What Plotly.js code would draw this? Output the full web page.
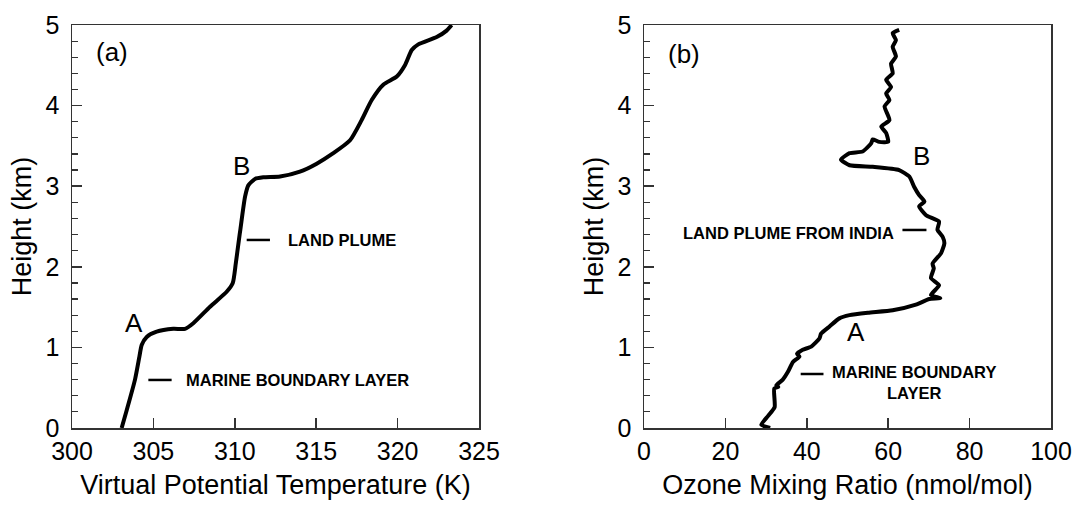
<!DOCTYPE html>
<html>
<head>
<meta charset="utf-8">
<script src="https://cdn.plot.ly/plotly-3.0.1.min.js"></script>
<style>html,body{margin:0;padding:0;background:#fff;}#chart{width:1072px;height:506px;}</style>
</head>
<body>
<div id="chart"></div>
<script>
// Panel (a): virtual potential temperature profile
const vptTemp = [303.05, 303.36, 303.87, 304.14, 304.28, 304.59, 305.2, 306.22, 306.94, 307.45, 308.48, 309.5, 309.87, 310.06, 310.25, 310.34, 310.63, 310.83, 311.24, 311.75, 312.78, 314.0, 315.03, 316.05, 317.08, 317.79, 318.41, 319.12, 319.95, 320.45, 320.87, 321.27, 322.4, 323.01, 323.32];
const vptHeight = [0, 0.22, 0.6, 0.885, 1.03, 1.13, 1.195, 1.23, 1.23, 1.30, 1.505, 1.69, 1.795, 2.04, 2.33, 2.46, 2.87, 3.01, 3.09, 3.11, 3.12, 3.18, 3.28, 3.41, 3.57, 3.82, 4.07, 4.26, 4.36, 4.5, 4.69, 4.76, 4.85, 4.93, 5.0];

// Panel (b): ozone mixing ratio profile
const ozone = [31.0, 28.8, 30.5, 32.1, 32.0, 33.0, 32.5, 34.1, 35.4, 36.6, 38.2, 37.6, 39.0, 41.1, 43.1, 43.5, 45.6, 48.0, 50.5, 55.0, 61.1, 66.8, 70.1, 72.8, 70.5, 72.5, 70.5, 71.2, 70.9, 73.0, 73.8, 73.4, 72.1, 72.5, 69.3, 67.6, 68.9, 67.6, 66.4, 65.2, 62.7, 56.2, 50.5, 48.4, 50.5, 53.7, 55.8, 56.2, 57.8, 60.0, 59.5, 58.3, 60.3, 59.1, 60.3, 59.5, 60.7, 59.5, 61.1, 60.7, 61.9, 61.1, 61.9, 61.1, 62.7];
const ozoneHeight = [0.0, 0.04, 0.15, 0.26, 0.49, 0.51, 0.53, 0.60, 0.70, 0.82, 0.885, 0.92, 0.97, 1.01, 1.11, 1.17, 1.26, 1.36, 1.40, 1.43, 1.46, 1.53, 1.60, 1.61, 1.65, 1.77, 1.86, 1.98, 2.04, 2.17, 2.29, 2.37, 2.46, 2.56, 2.64, 2.75, 2.81, 2.89, 2.99, 3.12, 3.20, 3.24, 3.26, 3.33, 3.41, 3.43, 3.53, 3.58, 3.55, 3.55, 3.66, 3.74, 3.82, 3.99, 4.07, 4.15, 4.23, 4.32, 4.40, 4.52, 4.61, 4.73, 4.81, 4.90, 4.94];

const tempTicks = [300, 305, 310, 315, 320, 325];
const ozoneTicks = [0, 20, 40, 60, 80, 100];
const heightTicks = [0, 1, 2, 3, 4, 5];

const FONT = 'Liberation Sans, Arial, Helvetica, sans-serif';
const AX = '#333';

const traces = [
  {x: vptTemp, y: vptHeight, xaxis: 'x', yaxis: 'y', mode: 'lines',
   line: {color: '#000', width: 4, shape: 'spline', smoothing: 0.6}, hoverinfo: 'skip'},
  {x: ozone, y: ozoneHeight, xaxis: 'x2', yaxis: 'y2', mode: 'lines',
   line: {color: '#000', width: 4, shape: 'spline', smoothing: 0.5}, hoverinfo: 'skip'}
];

function xAxis(dom, range, ticks, title) {
  return {domain: dom, range: range, tickvals: ticks, ticks: 'inside', ticklen: 10, tickwidth: 1.5,
    tickcolor: AX, showline: true, mirror: true, linecolor: AX, linewidth: 1.5, showgrid: false,
    zeroline: false, ticklabelstandoff: 0, ticklabeloverflow: 'allow', tickfont: {size: 25, color: '#000'},
    title: {text: title, font: {size: 27, color: '#000'}, standoff: 11}, automargin: false, fixedrange: true};
}
function yAxis(anchor) {
  return {domain: [0, 1], range: [0, 5], tickvals: heightTicks, ticks: 'inside', ticklen: 10, tickwidth: 1.5,
    tickcolor: AX, showline: true, mirror: true, linecolor: AX, linewidth: 1.5, showgrid: false,
    zeroline: false, ticklabelstandoff: 6, ticklabeloverflow: 'allow', tickfont: {size: 25, color: '#000'}, anchor: anchor,
    minor: {dtick: 0.2, ticks: 'inside', ticklen: 6, tickwidth: 1.2, tickcolor: AX, showgrid: false},
    title: {text: 'Height (km)', font: {size: 27, color: '#000'}, standoff: 6}, automargin: false, fixedrange: true};
}

const big = {size: 26, color: '#000', family: FONT};
const lbl = {size: 16.5, color: '#000', family: FONT, weight: 'bold'};
function ann(xr, yr, x, y, text, font, xanchor) {
  return {xref: xr, yref: yr, x: x, y: y, text: text, font: font, showarrow: false,
    xanchor: xanchor || 'center', yanchor: 'middle', align: 'center'};
}
function dash(xr, yr, x0, x1, y) {
  return {type: 'line', xref: xr, yref: yr, x0: x0, x1: x1, y0: y, y1: y, line: {color: '#000', width: 2.5}};
}

const layout = {
  width: 1072, height: 506,
  margin: {l: 0, r: 0, t: 25, b: 78},
  paper_bgcolor: '#fff', plot_bgcolor: '#fff',
  font: {family: FONT, color: '#000'},
  showlegend: false,
  xaxis: xAxis([72 / 1072, 479 / 1072], [300, 325], tempTicks, 'Virtual Potential Temperature (K)'),
  yaxis: yAxis('x'),
  xaxis2: Object.assign(xAxis([644 / 1072, 1051 / 1072], [0, 100], ozoneTicks, 'Ozone Mixing Ratio (nmol/mol)'), {anchor: 'y2'}),
  yaxis2: yAxis('x2'),
  annotations: [
    ann('x', 'y', 302.43, 4.665, '(a)', big),
    ann('x', 'y', 310.41, 3.245, 'B', big),
    ann('x', 'y', 303.81, 1.303, 'A', big),
    ann('x', 'y', 313.14, 2.333, 'LAND PLUME', lbl, 'left'),
    ann('x', 'y', 306.9, 0.596, 'MARINE BOUNDARY LAYER', lbl, 'left'),
    ann('x2', 'y2', 9.8, 4.64, '(b)', big),
    ann('x2', 'y2', 68.1, 3.38, 'B', big),
    ann('x2', 'y2', 52.0, 1.185, 'A', big),
    ann('x2', 'y2', 62.0, 2.42, 'LAND PLUME FROM INDIA', lbl, 'right'),
    ann('x2', 'y2', 66.4, 0.565, 'MARINE BOUNDARY<br>LAYER', lbl)
  ],
  shapes: [
    dash('x', 'y', 310.73, 312.16, 2.333),
    dash('x', 'y', 304.69, 306.12, 0.596),
    dash('x2', 'y2', 63.5, 69.4, 2.457),
    dash('x2', 'y2', 38.5, 44.1, 0.67)
  ]
};

Plotly.newPlot('chart', traces, layout, {displayModeBar: false, staticPlot: true});
</script>
</body>
</html>
